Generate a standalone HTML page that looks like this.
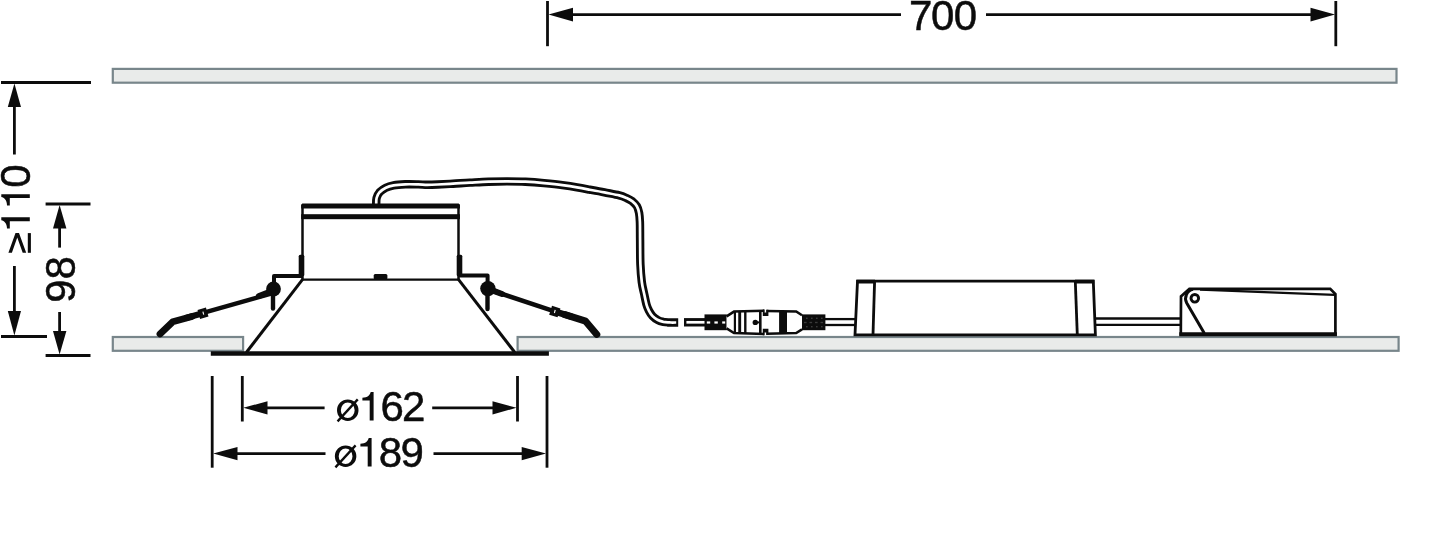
<!DOCTYPE html>
<html>
<head>
<meta charset="utf-8">
<title>Dimension drawing</title>
<style>
html,body{margin:0;padding:0;background:#fff;}
body{width:1440px;height:541px;overflow:hidden;}
svg{display:block;}
text{font-family:"Liberation Sans",sans-serif;fill:#0c0c0c;stroke:#0c0c0c;stroke-width:0.5px;}
</style>
</head>
<body>
<svg width="1440" height="541" viewBox="0 0 1440 541">
<rect x="0" y="0" width="1440" height="541" fill="#ffffff"/>

<!-- ceiling slabs -->
<g fill="#e9ebea" stroke="#78868b" stroke-width="2.2">
  <rect x="112.8" y="68.9" width="1283.7" height="13.8"/>
  <rect x="112.8" y="337" width="130.3" height="13.8"/>
  <rect x="517.6" y="337" width="881" height="13.8"/>
</g>

<!-- dimension lines -->
<g stroke="#0c0c0c" stroke-width="2.8" fill="none" stroke-linecap="butt">
  <!-- 700 -->
  <line x1="547.5" y1="1" x2="547.5" y2="46.2"/>
  <line x1="1335.8" y1="1" x2="1335.8" y2="46.2"/>
  <line x1="570" y1="14.6" x2="901" y2="14.6"/>
  <line x1="986" y1="14.6" x2="1313" y2="14.6"/>
  <!-- >=110 -->
  <line x1="1" y1="82.5" x2="91" y2="82.5"/>
  <line x1="1" y1="336.5" x2="47" y2="336.5"/>
  <line x1="14.4" y1="104" x2="14.4" y2="154.5"/>
  <line x1="14.4" y1="266" x2="14.4" y2="313"/>
  <!-- 98 -->
  <line x1="45.6" y1="204" x2="90.5" y2="204"/>
  <line x1="45.6" y1="355.5" x2="90.5" y2="355.5"/>
  <line x1="59.6" y1="226" x2="59.6" y2="247.6"/>
  <line x1="59.6" y1="312" x2="59.6" y2="333"/>
  <!-- o162 -->
  <line x1="242.3" y1="376" x2="242.3" y2="421.5"/>
  <line x1="517.5" y1="376" x2="517.5" y2="421.5"/>
  <line x1="265" y1="407.8" x2="324.6" y2="407.8"/>
  <line x1="432.2" y1="407.8" x2="495" y2="407.8"/>
  <!-- o189 -->
  <line x1="212.2" y1="376" x2="212.2" y2="467.7"/>
  <line x1="547" y1="376" x2="547" y2="467.7"/>
  <line x1="235" y1="453.6" x2="325.5" y2="453.6"/>
  <line x1="433.5" y1="453.6" x2="524" y2="453.6"/>
</g>
<g fill="#0c0c0c" stroke="none">
  <!-- arrowheads -->
  <polygon points="548.5,14.6 573,7.8 573,21.4"/>
  <polygon points="1335,14.6 1310.5,7.8 1310.5,21.4"/>
  <polygon points="14.4,83.5 7.8,107 21,107"/>
  <polygon points="14.4,335.5 7.8,311 21,311"/>
  <polygon points="59.6,205 53,228.5 66.4,228.5"/>
  <polygon points="59.6,354.5 53,331 66.4,331"/>
  <polygon points="243.3,407.8 267.5,401.2 267.5,414.4"/>
  <polygon points="516.5,407.8 492.5,401.2 492.5,414.4"/>
  <polygon points="213.2,453.6 237.5,447 237.5,460.2"/>
  <polygon points="546,453.6 521.7,447 521.7,460.2"/>
</g>

<!-- dimension text -->
<g fill="#0c0c0c" font-size="42" opacity="0.999">
<text y="29.7"><tspan x="909.05">7</tspan><tspan x="930.9">0</tspan><tspan x="953.8">0</tspan></text>
<path fill-rule="evenodd" d="M337.0,410.2 a10.75,10.8 0 1,0 21.5,0 a10.75,10.8 0 1,0 -21.5,0 Z M340.85,410.2 a6.9,7.8 0 1,0 13.8,0 a6.9,7.8 0 1,0 -13.8,0 Z"/><line x1="337.55" y1="421.4" x2="357.75" y2="399.4" stroke="#0c0c0c" stroke-width="2.3"/>
<path d="M373.6,420.6 V392.1 H370.70000000000005 C370.20000000000005,395.0 367.6,397.8 362.40000000000003,397.8 V400.6 H369.70000000000005 V420.6 Z"/>
<text y="420.6"><tspan x="380.4">6</tspan><tspan x="401.95">2</tspan></text>
<path fill-rule="evenodd" d="M334.85,456.2 a10.75,10.8 0 1,0 21.5,0 a10.75,10.8 0 1,0 -21.5,0 Z M338.70000000000005,456.2 a6.9,7.8 0 1,0 13.8,0 a6.9,7.8 0 1,0 -13.8,0 Z"/><line x1="335.40000000000003" y1="467.4" x2="355.6" y2="445.4" stroke="#0c0c0c" stroke-width="2.3"/>
<path d="M371.6,466.6 V438.1 H368.70000000000005 C368.20000000000005,441.0 365.6,443.8 360.40000000000003,443.8 V446.6 H367.70000000000005 V466.6 Z"/>
<text y="466.6"><tspan x="378.7">8</tspan><tspan x="400.5">9</tspan></text>
<g transform="translate(29.8,0) rotate(-90)">
<path d="M-217.3,0 V-28.5 H-220.20000000000002 C-220.70000000000002,-25.6 -223.3,-22.8 -228.5,-22.8 V-20 H-221.20000000000002 V0 Z"/><path d="M-194.2,0 V-28.5 H-197.1 C-197.6,-25.6 -200.2,-22.8 -205.39999999999998,-22.8 V-20 H-198.1 V0 Z"/>
<text y="0" x="-187.85">0</text>
</g>
<polygon points="8.4,252.8 15.5,233.1 19.0,233.1 26.2,252.8 22.7,252.8 17.25,237.6 11.9,252.8"/>
<rect x="27.8" y="233.1" width="3.1" height="19.7"/>
<g transform="translate(75.2,0) rotate(-90)">
<text y="0"><tspan x="-302.65">9</tspan><tspan x="-279.5">8</tspan></text>
</g>
</g>

<!-- FIXTURE -->
<g id="fixture" stroke="#0c0c0c" fill="none" stroke-linejoin="miter">
  <!-- cable from housing -->
  <path d="M376.2,206.0 C376.3,204.7 376.0,200.3 376.6,198.0 C377.2,195.7 378.1,193.9 379.6,192.2 C381.2,190.5 383.6,188.8 385.9,187.7 C388.2,186.6 390.4,186.0 393.6,185.4 C396.8,184.8 401.2,184.5 405.3,184.3 C409.4,184.1 414.5,184.3 418.2,184.4 C421.9,184.5 424.1,184.8 427.3,184.8 C430.5,184.8 433.3,184.7 437.6,184.5 C441.9,184.3 447.6,184.0 453.0,183.7 C458.4,183.4 464.1,182.9 470.0,182.6 C475.9,182.3 482.3,181.9 488.5,181.7 C494.7,181.5 500.8,181.4 507.0,181.4 C513.2,181.4 519.3,181.4 525.5,181.7 C531.7,182.0 537.9,182.5 544.0,183.1 C550.1,183.7 556.9,184.4 562.4,185.1 C567.9,185.8 572.5,186.5 577.0,187.3 C581.5,188.1 585.0,188.8 589.6,189.7 C594.2,190.5 599.5,191.4 604.4,192.4 C609.3,193.4 615.5,194.5 619.2,195.4 C622.9,196.3 624.4,197.1 626.6,198.1 C628.8,199.1 630.8,200.1 632.5,201.4 C634.2,202.8 635.8,204.3 636.9,206.2 C638.0,208.1 638.6,210.3 639.1,212.9 C639.6,215.5 639.7,217.3 639.9,221.8 C640.1,226.3 640.0,232.9 640.1,240.0 C640.2,247.1 640.1,257.2 640.4,264.2 C640.7,271.2 641.2,277.0 641.8,282.0 C642.4,287.0 643.4,290.2 644.2,294.0 C645.0,297.8 645.8,302.0 646.6,304.8 C647.4,307.6 648.0,308.9 649.0,310.8 C650.0,312.7 651.2,314.7 652.6,316.2 C654.0,317.7 655.6,318.9 657.4,319.8 C659.2,320.8 661.2,321.4 663.4,321.9 C665.6,322.3 668.1,322.4 670.6,322.5 C673.1,322.6 676.9,322.5 678.2,322.5" stroke-width="8.4"/>
  <path d="M376.2,206.0 C376.3,204.7 376.0,200.3 376.6,198.0 C377.2,195.7 378.1,193.9 379.6,192.2 C381.2,190.5 383.6,188.8 385.9,187.7 C388.2,186.6 390.4,186.0 393.6,185.4 C396.8,184.8 401.2,184.5 405.3,184.3 C409.4,184.1 414.5,184.3 418.2,184.4 C421.9,184.5 424.1,184.8 427.3,184.8 C430.5,184.8 433.3,184.7 437.6,184.5 C441.9,184.3 447.6,184.0 453.0,183.7 C458.4,183.4 464.1,182.9 470.0,182.6 C475.9,182.3 482.3,181.9 488.5,181.7 C494.7,181.5 500.8,181.4 507.0,181.4 C513.2,181.4 519.3,181.4 525.5,181.7 C531.7,182.0 537.9,182.5 544.0,183.1 C550.1,183.7 556.9,184.4 562.4,185.1 C567.9,185.8 572.5,186.5 577.0,187.3 C581.5,188.1 585.0,188.8 589.6,189.7 C594.2,190.5 599.5,191.4 604.4,192.4 C609.3,193.4 615.5,194.5 619.2,195.4 C622.9,196.3 624.4,197.1 626.6,198.1 C628.8,199.1 630.8,200.1 632.5,201.4 C634.2,202.8 635.8,204.3 636.9,206.2 C638.0,208.1 638.6,210.3 639.1,212.9 C639.6,215.5 639.7,217.3 639.9,221.8 C640.1,226.3 640.0,232.9 640.1,240.0 C640.2,247.1 640.1,257.2 640.4,264.2 C640.7,271.2 641.2,277.0 641.8,282.0 C642.4,287.0 643.4,290.2 644.2,294.0 C645.0,297.8 645.8,302.0 646.6,304.8 C647.4,307.6 648.0,308.9 649.0,310.8 C650.0,312.7 651.2,314.7 652.6,316.2 C654.0,317.7 655.6,318.9 657.4,319.8 C659.2,320.8 661.2,321.4 663.4,321.9 C665.6,322.3 668.5,322.4 670.6,322.5 C672.7,322.6 675.3,322.5 676.2,322.5" stroke="#fff" stroke-width="2.7"/>
  <!-- cable stub to connector -->
  <path d="M684,322.3 H706" stroke-width="8.4"/>
  <path d="M686.4,322.3 H706" stroke="#fff" stroke-width="2.7"/>

  <!-- housing -->
  <rect x="302.5" y="205" width="156" height="74.6" fill="#fff" stroke="none"/>
  <line x1="302.5" y1="205" x2="302.5" y2="279.6" stroke-width="2.5"/>
  <line x1="458.5" y1="205" x2="458.5" y2="279.6" stroke-width="2.5"/>
  <path d="M301.2,204.6 L302.4,203.4 H458.6 L459.9,204.6 V208.5 H301.2 Z" fill="#0c0c0c" stroke="none"/>
  <rect x="301.2" y="214.2" width="158.7" height="5" fill="#0c0c0c" stroke="none"/>
  <rect x="298.7" y="254.8" width="5.6" height="21.4" rx="1.5" fill="#0c0c0c" stroke="none"/>
  <rect x="456.7" y="254.8" width="5.6" height="21.4" rx="1.5" fill="#0c0c0c" stroke="none"/>
  <rect x="373.7" y="273.9" width="13.7" height="5.6" rx="1.5" fill="#0c0c0c" stroke="none"/>

  <!-- cone -->
  <line x1="301.5" y1="279.6" x2="459.5" y2="279.6" stroke-width="2.4"/>
  <line x1="302.6" y1="279.4" x2="246.3" y2="352.5" stroke-width="3"/>
  <line x1="458.4" y1="279.4" x2="514.9" y2="352.5" stroke-width="3"/>
  <!-- trim flange -->
  <line x1="210.8" y1="353.55" x2="548.9" y2="353.55" stroke-width="4.5"/>

  <!-- brackets -->
  <path d="M303,276 H274 V289" stroke-width="4" stroke-linejoin="round"/>
  <path d="M458,275.6 H487.6 V289" stroke-width="4" stroke-linejoin="round"/>
  <circle cx="273.5" cy="289" r="7.4" fill="#0c0c0c" stroke="none"/>
  <circle cx="487.9" cy="288.6" r="7.7" fill="#0c0c0c" stroke="none"/>
  <line x1="273" y1="289" x2="273" y2="308.5" stroke-width="4.4" stroke-linecap="round"/>
  <line x1="487.5" y1="289" x2="487.5" y2="309" stroke-width="4.4" stroke-linecap="round"/>

  <!-- left spring clip -->
  <path d="M272,293.3 L204,312.6" stroke-width="4.5"/>
  <path d="M268,292.5 L259,296" stroke-width="6" stroke-linecap="round"/>
  <path d="M203.5,313 L185,318.2" stroke-width="6.2"/>
  <path d="M192,316.4 L172.8,321.8 L160,334" stroke-width="6.8" stroke-linecap="round" stroke-linejoin="round"/>
  <path d="M198.8,314.4 L207.2,312" stroke-width="9.4"/>
  <path d="M202.9,311.6 L203.7,314.6" stroke="#fff" stroke-width="1.1"/>

  <!-- right spring clip -->
  <path d="M489.5,289.8 L554.5,311.4" stroke-width="4.6"/>
  <path d="M493,290.6 L502,294" stroke-width="6" stroke-linecap="round"/>
  <path d="M554.5,311.4 L572,316.9" stroke-width="6.4"/>
  <path d="M565,314.7 L585.6,321.2 L596.8,334.4" stroke-width="7" stroke-linecap="round" stroke-linejoin="round"/>
  <path d="M550.6,310.2 L559,312.9" stroke-width="9.4"/>
  <path d="M555.2,309.9 L554.4,313" stroke="#fff" stroke-width="1.1"/>

  <!-- connector -->
  <g>
    <rect x="704.5" y="314.4" width="22.3" height="15.8" fill="#0c0c0c" stroke="none"/>
    <g stroke="#fff" stroke-width="2.2"><line x1="706.8" y1="322.5" x2="710.2" y2="322.5"/><line x1="714.4" y1="322.5" x2="717.8" y2="322.5"/><line x1="722.2" y1="322.5" x2="725.2" y2="322.5"/></g>
    <!-- body fill -->
    <path d="M726.6,316.4 L734,311.6 L765,310.7 L796.2,311.4 L802,315.2 V329.4 L796.2,333 L765,334 L734,333 L726.6,328.4 Z" fill="#fff" stroke="none"/>
    <!-- left body outline -->
    <path d="M726.6,316.4 L734,311.6 L764.2,310.7" stroke-width="2.5"/>
    <path d="M726.6,328.4 L734,333 L764.2,334" stroke-width="2.5"/>
    <line x1="734.9" y1="311.5" x2="734.9" y2="333" stroke-width="2.2"/>
    <line x1="739.7" y1="311.5" x2="739.7" y2="333" stroke-width="2.9"/>
    <line x1="745.3" y1="311.3" x2="745.3" y2="333.2" stroke-width="2.4"/>
    <line x1="760.3" y1="311" x2="760.3" y2="333.8" stroke-width="2.6"/>
    <circle cx="755.3" cy="322.4" r="2.7" fill="#0c0c0c" stroke="none"/>
    <line x1="755" y1="322.4" x2="759.5" y2="322.4" stroke-width="2"/>
    <!-- right body outline -->
    <path d="M766.6,311 L796.2,311.4 L802,315.2" stroke-width="2.5"/>
    <path d="M766.6,333.7 L796.2,333 L802,329.4" stroke-width="2.5"/>
    <rect x="779.1" y="311" width="7.9" height="22.4" fill="#0c0c0c" stroke="none"/>
    <!-- junction notches -->
    <path d="M762.8,309.5 H764.6 V312.6 H766.2 V309.8 H768.4 V316 H762.8 Z" fill="#0c0c0c" stroke="none"/>
    <path d="M762.8,335.2 H764.6 V332.4 H766.2 V335 H768.4 V328.8 H762.8 Z" fill="#0c0c0c" stroke="none"/>
    <rect x="802" y="314.4" width="23.4" height="15.8" fill="#0c0c0c" stroke="none"/>
    <g fill="#3a3a3a" stroke="none">
      <rect x="806" y="317.6" width="1.6" height="1.4"/><rect x="811" y="317.6" width="1.6" height="1.4"/><rect x="816" y="317.6" width="1.6" height="1.4"/><rect x="821" y="317.6" width="1.6" height="1.4"/>
      <rect x="804" y="321.8" width="2.6" height="1.4"/><rect x="809.5" y="321.8" width="2.6" height="1.4"/><rect x="815" y="321.8" width="2.6" height="1.4"/><rect x="820.5" y="321.8" width="2.6" height="1.4"/>
      <rect x="806" y="326" width="1.6" height="1.4"/><rect x="811" y="326" width="1.6" height="1.4"/><rect x="816" y="326" width="1.6" height="1.4"/><rect x="821" y="326" width="1.6" height="1.4"/>
    </g>
  </g>
  <!-- cable connector->driver -->
  <line x1="825" y1="319.1" x2="856" y2="319.1" stroke-width="2.3"/>
  <line x1="825" y1="325" x2="856" y2="325" stroke-width="2.3"/>

  <!-- driver -->
  <path d="M857.5,281.2 H1093.3 L1095.4,334.8 H855 Z" fill="#fff" stroke-width="2.8"/>
  <line x1="874.6" y1="281" x2="873" y2="335" stroke-width="2.8"/>
  <line x1="1075.3" y1="281" x2="1077.3" y2="335" stroke-width="2.8"/>
  <line x1="856.5" y1="281.6" x2="875" y2="281.6" stroke-width="3.8"/>
  <line x1="1075" y1="281.6" x2="1094.3" y2="281.6" stroke-width="3.8"/>

  <!-- cable driver->unit -->
  <line x1="1095" y1="318.5" x2="1181" y2="318.5" stroke-width="2.3"/>
  <line x1="1095" y1="324.8" x2="1181" y2="324.8" stroke-width="2.3"/>

  <!-- right unit -->
  <path d="M1180.8,334.5 L1181,296.4 L1189.4,288.8 L1330.2,288.8 L1335.4,294 V334.5 Z" fill="#fff" stroke-width="2.7"/>
  <line x1="1179.3" y1="334.3" x2="1336.9" y2="334.3" stroke-width="4"/>
  <path d="M1200,289.6 L1334.6,294.8" stroke-width="2.2"/>
  <path d="M1193,289.4 A9.4,9.4 0 0,0 1186.7,303.05 L1204.3,333.2" stroke-width="3"/>
  <circle cx="1194.8" cy="298.3" r="3.8" stroke-width="2.9"/>
</g>
</svg>
</body>
</html>
